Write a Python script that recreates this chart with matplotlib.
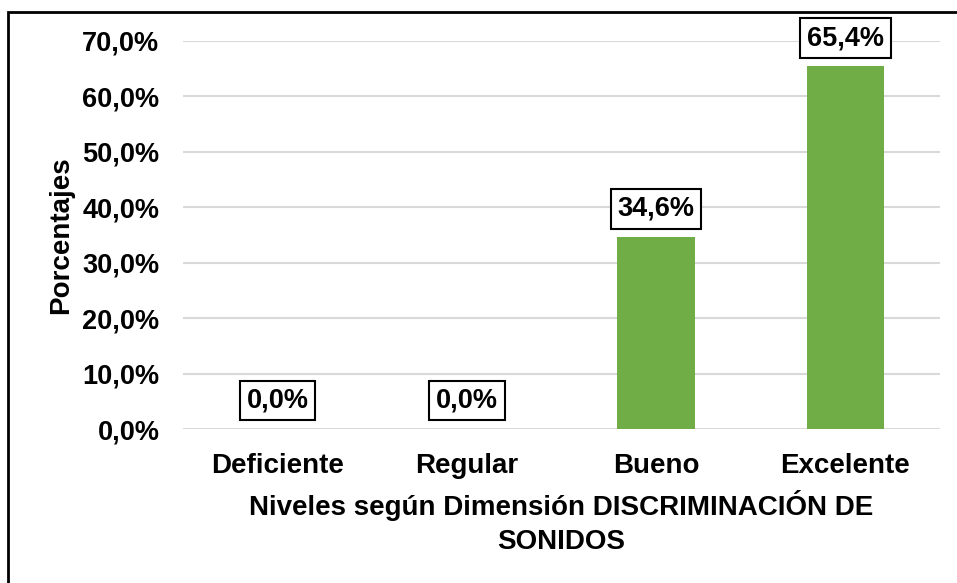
import matplotlib
import matplotlib.pyplot as plt
from matplotlib.patches import Rectangle

matplotlib.use('Agg')

niveles = ['Deficiente', 'Regular', 'Bueno', 'Excelente']
porcentajes = [0.0, 0.0, 34.6, 65.4]
y_ticks = [0, 10, 20, 30, 40, 50, 60, 70]

plt.rcParams['font.family'] = ['Liberation Sans', 'DejaVu Sans']
plt.rcParams['font.weight'] = 'bold'

fig = plt.figure(figsize=(9.57, 5.83), dpi=100)
ax = fig.add_axes([183 / 957, 1 - 429 / 583, (940 - 183) / 957, (429 - 41) / 583])

x = range(len(niveles))
ax.bar(x, porcentajes, width=0.41, color='#70AD47', zorder=2)

ax.set_ylim(0, 70)
ax.set_xlim(-0.5, len(niveles) - 0.5)
ax.set_yticks(y_ticks)
ax.set_yticklabels([f'{v:.1f}%'.replace('.', ',') for v in y_ticks], fontsize=19.5, fontweight='bold')
ax.set_xticks(list(x))
ax.set_xticklabels(niveles, fontsize=20, fontweight='bold')
ax.tick_params(axis='both', length=0)
ax.tick_params(axis='y', pad=17)
ax.tick_params(axis='x', pad=17)
ax.grid(axis='y', color='#D9D9D9', linewidth=1.5, zorder=0)
for s in ax.spines.values():
    s.set_visible(False)

for i, v in enumerate(porcentajes):
    ax.annotate(f'{v:.1f}%'.replace('.', ','), (i, v), xytext=(0, 11), textcoords='offset points',
                ha='center', va='bottom', fontsize=19.5, fontweight='bold',
                bbox=dict(boxstyle='square,pad=0.25', fc='white', ec='black', lw=1.5))

ax.set_ylabel('Porcentajes', fontsize=20, fontweight='bold', labelpad=6)
ax.set_xlabel('Niveles según Dimensión DISCRIMINACIÓN DE\nSONIDOS', fontsize=20,
              fontweight='bold', labelpad=8, linespacing=1.4)

# marco exterior del grafico
fig.patches.append(Rectangle((8 / 957, -0.1), 1.2, 1 - 12 / 583 + 0.1, transform=fig.transFigure,
                             fill=False, ec='black', lw=2))

fig.savefig('out.png', dpi=100)
